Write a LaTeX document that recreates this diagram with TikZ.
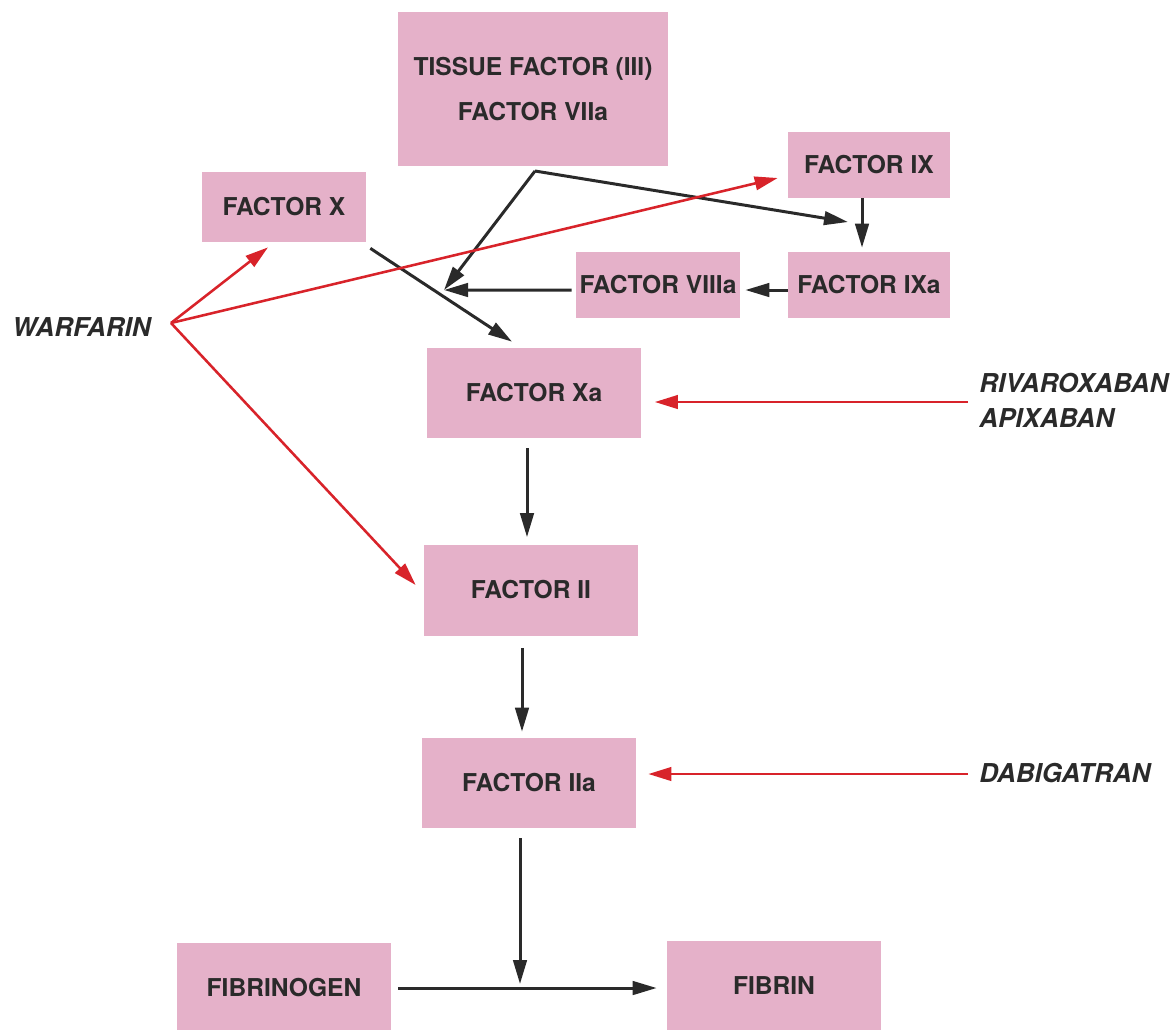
\documentclass[tikz,border=0pt]{standalone}
\usepackage{fontspec}
\setmainfont{TeX Gyre Heros}
\usetikzlibrary{arrows.meta,positioning,calc}
\definecolor{boxpink}{HTML}{E5B1C9}
\definecolor{drugred}{HTML}{D8232A}
\definecolor{inkgray}{HTML}{2A2A2A}

\begin{document}
\begin{tikzpicture}[
  x=0.02cm,y=-0.02cm,
  fac/.style={fill=boxpink,align=center,inner sep=0pt,text=inkgray,
    font=\fontsize{14}{26}\selectfont\bfseries},
  drug/.style={align=left,inner sep=0pt,text=inkgray,
    font=\fontsize{14.8}{20}\selectfont\bfseries\itshape},
  arr/.style={-{Triangle[length=4.8mm,width=2.7mm]},line width=1.7pt,inkgray},
  inh/.style={-{Triangle[length=4.6mm,width=2.7mm]},line width=1.45pt,drugred},
]
\useasboundingbox (0,0) rectangle (1172,1029);
% factor boxes
\node[fac,minimum width=5.4cm,minimum height=3.08cm] (tf) at (533,89) {TISSUE FACTOR (III)\\FACTOR VIIa};
\node[fac,minimum width=3.24cm,minimum height=1.32cm] (fix) at (869,165) {FACTOR IX};
\node[fac,minimum width=3.28cm,minimum height=1.4cm] (fx) at (284,207) {FACTOR X};
\node[fac,minimum width=3.28cm,minimum height=1.32cm] (fviii) at (658,285) {FACTOR VIIIa};
\node[fac,minimum width=3.24cm,minimum height=1.32cm] (fixa) at (869,285) {FACTOR IXa};
\node[fac,minimum width=4.3cm,minimum height=1.8cm] (fxa) at (534,393) {FACTOR Xa};
\node[fac,minimum width=4.28cm,minimum height=1.82cm] (fii) at (531,590) {FACTOR II};
\node[fac,minimum width=4.28cm,minimum height=1.8cm] (fiia) at (529,783) {FACTOR IIa};
\node[fac,minimum width=4.28cm,minimum height=1.8cm] (fbg) at (284,988) {FIBRINOGEN};
\node[fac,minimum width=4.28cm,minimum height=1.8cm] (fbn) at (774,986) {FIBRIN};
% drugs
\node[drug,anchor=east] (warf) at (151,327) {WARFARIN};
\node[drug,anchor=west] (xai) at (979,400) {RIVAROXABAN\\APIXABAN};
\node[drug,anchor=west] (dabi) at (979,773) {DABIGATRAN};
% junctions
\coordinate (apex) at (535,171);
\coordinate (join) at (444,290);
\coordinate (ixin) at (848,222);
\coordinate (clot) at (520,988);
% cascade
\draw[arr] (apex) -- (ixin);
\draw[arr] (apex) -- (join);
\draw[arr] ([xshift=-0.14cm]fix.south) -- ([xshift=-0.14cm,yshift=0.08cm]fixa.north);
\draw[arr] ([yshift=-0.1cm]fixa.west) -- ([xshift=0.1cm,yshift=-0.1cm]fviii.east);
\draw[arr] ([xshift=-0.08cm,yshift=-0.1cm]fviii.west) -- (join);
\draw[arr] ([shift={(4,6)}]fx.south east) -- ([shift={(-22,-6)}]fxa.north);
\draw[arr] ([shift={(-7,10)}]fxa.south) -- ([shift={(-4,-7)}]fii.north);
\draw[arr] ([shift={(-9,12)}]fii.south) -- ([shift={(-7,-6)}]fiia.north);
\draw[arr] ([shift={(-9,10)}]fiia.south) -- ([yshift=0.08cm]clot);
\draw[arr] ([xshift=0.14cm]fbg.east) -- ([xshift=-0.2cm]fbg.east -| fbn.west);
% inhibitors
\draw[inh] ([shift={(20,-4)}]warf.east) -- ([shift={(-16,5)}]fx.south);
\draw[inh] ([shift={(20,-4)}]warf.east) -- ([shift={(-10,13)}]fix.west);
\draw[inh] ([shift={(20,-4)}]warf.east) -- ([shift={(-8,-5)}]fii.west);
\draw[inh] ([shift={(-11,2)}]xai.west) -- ([shift={(13,9)}]fxa.east);
\draw[inh] ([shift={(-11,1)}]dabi.west) -- ([shift={(12,-9)}]fiia.east);
\end{tikzpicture}
\end{document}
